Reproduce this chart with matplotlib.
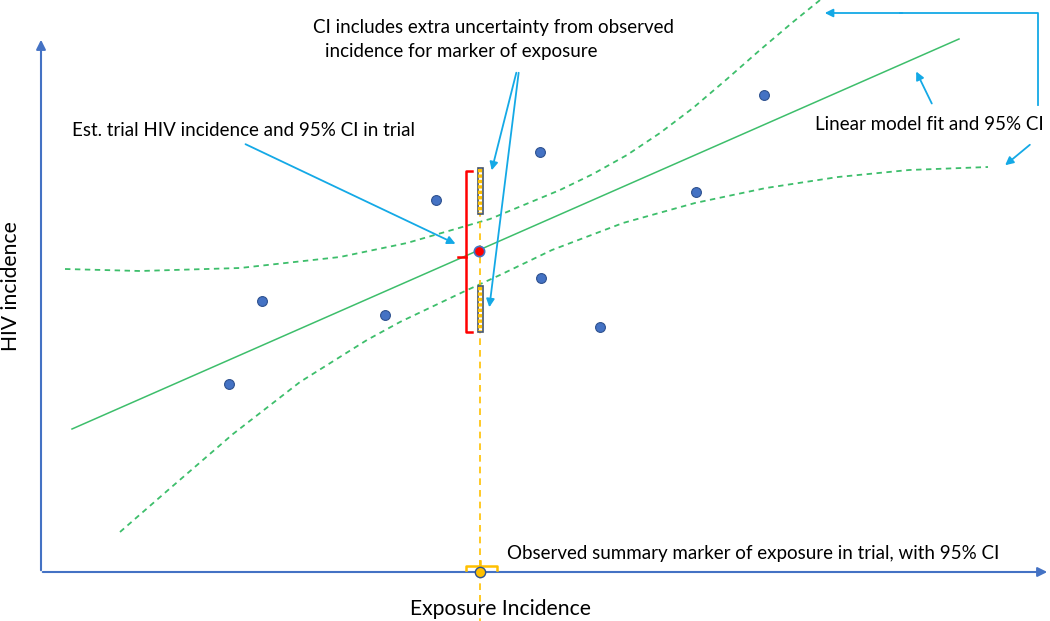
import numpy as np
import matplotlib
matplotlib.use('Agg')
import matplotlib.pyplot as plt
from matplotlib.patches import Rectangle

# ----------------------------------------------------------------------
#   Data (schematic, in canvas units: x right, y down)
# ----------------------------------------------------------------------

trial_x = [229, 262, 385, 436, 540, 541, 600, 696, 764]
trial_y = [384, 301, 315, 200, 152, 278, 327, 192, 95]

fit_x = [72, 959]
fit_y = [429, 39]

upper_x = [65, 140, 240, 340, 407, 490, 560, 593, 627, 660, 693, 727, 760, 793, 825]
upper_y = [269, 271, 268, 257, 243, 219, 190, 174, 155, 133, 108, 79, 50, 22, -4]

lower_x = [120, 167, 233, 300, 367, 400, 463, 500, 552, 623, 695, 766, 838, 909, 988]
lower_y = [532, 491, 434, 382, 340, 322, 292, 275, 250, 223, 203, 188, 177, 170, 167]

est_x, est_y = 479, 251
ci_top, ci_bot = 171, 332
extra_bars = [(168, 214), (286, 332)]
obs_x, obs_y = 480, 572
obs_lo, obs_hi = 466, 497

blue = '#4472C4'
arrow_c = '#14A9E6'
green = '#3DBE6B'

# ----------------------------------------------------------------------
#   Plot
# ----------------------------------------------------------------------

plt.rcParams['font.family'] = ['Lato', 'DejaVu Sans']

fig = plt.figure(figsize=(10.5, 6.21), dpi=100)
ax = fig.add_axes([0, 0, 1, 1])
ax.set_xlim(0, 1050)
ax.set_ylim(621, 0)
ax.axis('off')

# axes arrows
ax.annotate('', xy=(1050, 572), xytext=(40, 572),
            arrowprops=dict(arrowstyle='-|>', color=blue, lw=1.5, mutation_scale=14))
ax.annotate('', xy=(41, 37), xytext=(41, 573),
            arrowprops=dict(arrowstyle='-|>', color=blue, lw=1.5, mutation_scale=14))

# fit and CI
ax.plot(fit_x, fit_y, color=green, lw=1.1)
ax.plot(upper_x, upper_y, color=green, lw=1.3, ls=(0, (3, 2.5)))
ax.plot(lower_x, lower_y, color=green, lw=1.3, ls=(0, (3, 2.5)))

# vertical dashed yellow line
ax.plot([obs_x, obs_x], [175, 621], color='#FFC000', lw=1.2, ls=(0, (4, 3)), zorder=2)

# trial points
ax.scatter(trial_x, trial_y, s=50, color=blue, edgecolors='#2F528F', lw=0.8, zorder=5)

# extra uncertainty bars
for top, bot in extra_bars:
    ax.add_patch(Rectangle((477.5, top), 5, bot - top, facecolor='white',
                           edgecolor='#44546A', lw=1.2, zorder=6))
    ax.plot([480, 480], [top + 1, bot - 1], color='#FFC000', lw=3,
            ls=(0, (0.8, 0.5)), solid_capstyle='butt', zorder=7)

# red bracket
ax.plot([472, 466, 466, 472], [ci_top, ci_top, ci_bot, ci_bot], color='#FF0000', lw=1.8, zorder=4)
ax.plot([458, 466], [257, 257], color='#FF0000', lw=1.8, zorder=4)
ax.scatter([est_x], [est_y], s=55, color='#FF0000', edgecolors=blue, lw=1.2, zorder=8)

# observed marker bracket
ax.plot([obs_lo, obs_lo, obs_hi, obs_hi], [570, 566, 566, 570], color='#FFC000', lw=1.8, zorder=4)
ax.plot([obs_x, obs_x], [566, 561], color='#FFC000', lw=1.8, zorder=4)
ax.scatter([obs_x], [obs_y], s=55, color='#FFC000', edgecolors='#2F528F', lw=1.0, zorder=8)

# axis labels
ax.text(500, 609, 'Exposure Incidence', fontsize=15.2, ha='center', va='center')
ax.text(11, 286, 'HIV incidence', fontsize=15.2, ha='center', va='center', rotation=90)

# annotations
fs = 13.5
ax.text(313, 27, 'CI includes extra uncertainty from observed', fontsize=fs, va='center')
ax.text(325, 52, 'incidence for marker of exposure', fontsize=fs, va='center')
ax.text(72, 130, 'Est. trial HIV incidence and 95% CI in trial', fontsize=fs, va='center')
ax.text(815, 124, 'Linear model fit and 95% CI', fontsize=fs, va='center')
ax.text(507, 553, 'Observed summary marker of exposure in trial, with 95% CI', fontsize=fs, va='center')

arr = dict(arrowstyle='-|>', color=arrow_c, lw=1.3, mutation_scale=12)
ax.annotate('', xy=(491, 173), xytext=(517, 70), arrowprops=arr)
ax.annotate('', xy=(489, 310), xytext=(519, 70), arrowprops=arr)
ax.annotate('', xy=(458, 245), xytext=(243, 143), arrowprops=arr)
ax.annotate('', xy=(915, 69), xytext=(933, 106), arrowprops=arr)
ax.annotate('', xy=(1003, 167), xytext=(1032, 143), arrowprops=arr)
ax.plot([1038, 1038, 900], [105, 13, 13], color=arrow_c, lw=1.3)
ax.annotate('', xy=(822, 13), xytext=(905, 13), arrowprops=arr)

plt.savefig('out.png', dpi=100)
plt.close()
